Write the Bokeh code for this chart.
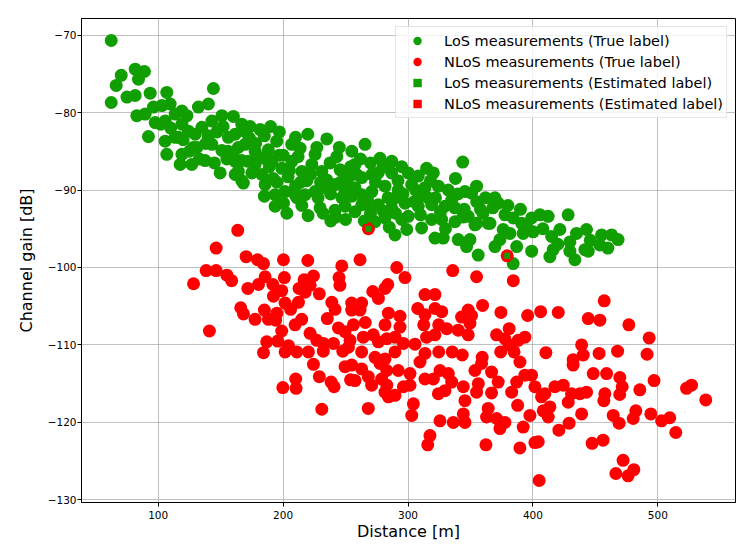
from bokeh.plotting import figure
from bokeh.models import Range1d, FixedTicker, Legend, LegendItem
from bokeh.embed import file_html
from bokeh.resources import INLINE

# ---------------- data ----------------
los_distance = [
    62.4, 70.4, 66.4, 62.4, 81.6, 89.0, 84.2, 75.0, 81.6, 93.6, 106.9, 144.2,
    82.9, 89.6, 96.2, 103.0, 109.6, 97.6, 105.6, 113.6, 119.0,
    92.2, 105.6, 106.9, 113.6, 123.0, 132.2, 140.2,
    119.0, 124.2, 129.6, 135.0, 143.0, 151.0, 160.2, 166.9,
    116.2, 119.0, 117.6, 126.9, 137.6, 131.0, 143.0, 151.0, 156.2, 161.6, 164.2, 166.9,
    149.6, 161.6, 166.9,
    173.6, 181.6, 169.6, 177.6, 188.2, 194.9, 206.9, 213.6, 219.8, 225.6,
    161.6, 164.2, 168.2, 177.6, 183.0, 191.0, 199.0, 207.0, 215.0, 223.0, 231.0, 237.6, 245.6, 252.2, 257.6, 265.6, 263.0, 271.0,
    185.6, 193.6, 201.6, 209.6, 217.6, 225.6, 233.6, 241.6, 249.6, 257.6, 263.0, 271.0,
    193.6, 200.3, 211.0, 229.6, 241.6, 238.2, 249.6, 257.6, 263.0,
    277.6, 343.8, 314.9, 320.3, 276.2, 286.9, 300.2, 308.2,
    281.6, 292.2, 302.9, 313.6, 324.3, 332.2, 345.6, 354.9, 350.9, 369.6, 372.2, 367.9,
    276.2, 286.9, 297.6, 308.2, 318.9, 329.6, 337.6,
    273.6, 281.6, 300.2, 310.9, 318.9, 326.9, 337.6, 348.2, 353.6, 364.2,
    289.6, 299.0, 321.6, 328.2, 340.2, 346.9, 356.2, 369.6, 373.6,
    355.0, 349.6, 365.6, 377.6, 376.2, 384.2, 391.0, 399.0, 405.6, 412.2, 387.0, 399.0, 384.2,
    381.6, 392.2, 400.2, 415.0, 421.6, 428.2, 429.6, 434.9, 442.9, 416.2, 429.6, 441.6, 433.6,
    455.0, 463.0, 468.2, 453.6, 413.6, 444.3,
    173.0, 181.0, 189.0, 197.0, 204.0, 212.0, 219.0, 227.0, 235.0, 243.0, 251.0, 259.0,
    175.0, 195.0, 210.0, 228.0, 247.0, 255.0, 268.0, 185.0, 203.0, 220.0, 242.0, 280.0,
    290.0, 310.0, 322.0, 335.0, 345.0, 292.0, 305.0, 318.0, 338.0, 355.0, 360.0, 330.0,
    310.0, 295.0, 285.0, 265.0, 250.0, 147.0, 152.0, 140.0, 128.0, 133.0, 155.0, 172.0,
    160.0, 185.0, 197.0, 210.0, 235.0, 245.0, 255.0, 270.0, 280.0, 287.0, 295.0, 102.0,
    110.0, 120.0,
    178.0, 186.0, 192.0, 200.0, 205.0, 214.0, 222.0, 230.0, 238.0, 246.0, 254.0, 262.0,
    274.0, 284.0, 296.0, 306.0, 316.0, 326.0, 340.0, 344.0, 358.0, 362.0, 380.0, 390.0,
    396.0, 408.0, 420.0, 446.0, 460.0, 170.0, 190.0, 156.0, 145.0, 138.0, 125.0, 215.0,
    232.0, 270.0, 290.0,
]
los_gain = [
    -70.7, -75.2, -76.5, -78.7, -74.4, -74.7, -75.7, -78.0, -77.8, -77.5, -77.4, -76.9,
    -80.4, -80.2, -79.3, -79.1, -78.9, -81.3, -81.1, -80.2, -79.8,
    -83.1, -83.7, -85.4, -83.2, -80.4, -79.3, -78.9,
    -81.5, -82.4, -82.8, -81.9, -81.1, -80.4, -80.5, -81.5,
    -83.2, -85.4, -86.7, -86.7, -86.2, -84.5, -84.1, -84.9, -83.2, -82.8, -84.5, -86.2,
    -87.8, -88.0, -88.8,
    -81.8, -82.2, -84.1, -85.0, -84.8, -83.7, -84.1, -84.6, -82.8, -85.4,
    -86.3, -87.6, -89.1, -86.7, -88.0, -86.3, -87.2, -86.3, -87.6, -86.7, -87.6, -86.5, -87.4, -88.4, -86.7, -84.1, -88.4, -88.0,
    -89.3, -90.6, -90.2, -90.6, -90.6, -90.2, -89.7, -89.3, -90.2, -89.7, -90.6, -90.2,
    -92.1, -91.7, -91.0, -92.3, -92.6, -94.0, -92.1, -92.8, -91.9,
    -85.9, -86.4, -87.2, -87.8, -87.8, -87.8, -87.8, -88.2,
    -89.5, -90.0, -89.3, -89.7, -89.5, -90.0, -90.2, -89.5, -90.4, -91.0, -91.7, -92.3,
    -91.9, -92.3, -91.7, -92.1, -91.9, -92.1, -92.3,
    -94.1, -93.6, -93.4, -94.9, -93.8, -93.8, -94.1, -93.4, -94.5, -94.3,
    -95.8, -95.1, -96.2, -96.2, -96.4, -97.3, -98.4, -97.3, -96.4,
    -94.3, -96.4, -94.3, -93.2, -95.1, -93.6, -94.3, -93.6, -93.2, -93.4, -97.3, -97.9, -99.5,
    -95.6, -95.6, -95.4, -96.0, -95.1, -93.2, -96.7, -95.6, -95.1, -97.7, -97.9, -97.7, -99.0,
    -95.8, -95.8, -96.4, -97.1, -98.6, -97.9,
    -83.3, -85.8, -87.0, -85.5, -88.3, -85.7, -88.8, -84.5, -88.7, -85.7, -89.2, -88.0,
    -87.8, -89.0, -89.5, -91.0, -91.0, -90.8, -91.5, -90.8, -93.0, -93.3, -93.5, -92.7,
    -91.0, -90.8, -91.0, -91.3, -92.5, -88.8, -91.5, -88.8, -88.5, -91.5, -93.0, -95.0,
    -93.2, -93.8, -94.8, -94.0, -93.8, -82.5, -81.8, -83.0, -84.5, -86.0, -86.0, -86.3,
    -85.3, -83.0, -82.5, -83.2, -83.4, -84.5, -85.0, -86.5, -87.0, -86.3, -87.0, -81.5,
    -82.0, -83.5,
    -84.0, -86.0, -88.5, -85.5, -87.5, -89.0, -88.0, -89.0, -90.5, -89.0, -87.0, -86.0,
    -89.0, -91.0, -90.5, -90.0, -91.0, -92.8, -90.5, -93.5, -92.5, -91.0, -92.0, -92.5,
    -95.0, -95.0, -97.0, -96.5, -97.5, -82.5, -81.8, -85.0, -86.5, -84.0, -85.0, -92.0,
    -93.0, -93.0, -93.0,
]

# NLoS measurements; the first two were estimated as LoS
nlos_distance = [
    268.3, 379.4,
    163.7, 146.4, 170.4, 179.5, 184.3, 200.3, 219.8, 247.0, 138.4, 146.4, 155.0, 158.8, 128.3,
    185.6, 201.0, 171.8, 180.3, 191.8, 216.8, 224.3, 212.8, 221.6, 198.9, 192.3, 229.0, 217.6,
    244.8, 245.5, 166.1, 168.3, 177.6, 185.0, 188.3, 195.0, 194.0, 201.6, 206.0, 212.3, 214.9,
    209.6, 239.0, 241.6, 235.4, 141.0, 198.9, 221.6, 244.3, 186.9, 195.7, 204.3, 227.0, 232.2,
    240.3, 249.6, 184.3, 201.6, 211.0, 220.3, 232.2, 247.8, 252.3,
    224.3, 249.6, 210.1, 199.8, 210.4, 229.0, 238.4, 240.8, 231.0, 254.0,
    261.6, 291.0, 297.6, 335.8, 354.9, 384.3, 271.8, 276.3, 281.6, 283.8, 254.9, 262.9, 254.9,
    261.6, 284.3, 293.6, 265.8, 256.3, 281.6, 293.6, 313.6, 321.6, 307.8, 313.6, 321.6, 327.0,
    312.6, 324.6, 331.0, 314.9, 321.6, 340.2, 348.2, 342.9, 348.2, 350.9, 359.7, 374.4, 381.0,
    395.8, 349.6, 370.9, 377.6, 388.2, 393.6, 374.2, 380.9, 384.9, 253.6, 264.2, 272.2, 276.3,
    283.0, 289.6, 296.3, 305.6, 313.6, 324.6, 335.4, 343.4, 359.4, 389.6, 262.9, 273.6, 289.6,
    281.6,
    254.9, 262.9, 257.6, 268.2, 270.9, 277.6, 283.0, 278.9, 283.0, 284.3, 289.6, 281.6, 292.2,
    301.6, 296.3, 301.6, 304.3, 303.0, 268.2, 309.6, 313.6, 320.3, 324.3, 329.6, 325.6, 332.3,
    335.0, 325.6, 336.3, 345.6, 344.3, 345.6, 344.3, 317.6, 315.8, 353.6, 356.3, 354.9, 358.9,
    366.9, 372.2, 366.9, 364.2, 362.9, 370.9, 377.6, 373.6, 362.4, 383.0, 387.0, 393.6, 398.9,
    387.8, 397.6, 392.2, 389.6, 401.6,
    406.2, 420.3, 457.1, 444.3, 453.6, 476.8, 493.1, 410.4, 439.0, 440.3, 432.2, 453.0, 467.8,
    491.4,
    401.6, 406.9, 409.6, 413.6, 408.3, 412.3, 432.2, 417.6, 424.3, 430.9, 437.6, 442.9, 428.3,
    448.3, 459.0, 469.6, 471.5, 469.5, 457.6, 456.8, 485.6, 497.0, 439.0, 429.0, 420.8, 404.3,
    464.3, 469.0, 480.3, 482.4, 494.4, 503.0, 509.6, 514.4, 523.0, 527.0, 538.4, 447.4, 456.2,
    472.2, 466.4, 476.2, 480.8, 405.0,
]
nlos_gain = [
    -95.0, -98.5,
    -95.2, -97.5, -98.6, -99.0, -99.5, -99.0, -99.1, -99.8, -100.4, -100.4, -101.0, -101.7, -102.1,
    -101.2, -101.3, -102.7, -102.2, -102.2, -101.6, -101.1, -102.7, -102.3, -103.0, -103.7, -103.4, -103.2,
    -101.3, -102.3, -105.2, -106.0, -106.7, -105.5, -106.7, -105.9, -106.8, -104.6, -105.4, -104.5, -106.7,
    -107.4, -104.5, -105.4, -106.6, -108.2, -108.2, -108.5, -107.8, -109.6, -109.5, -110.1, -109.4, -109.8,
    -109.8, -108.3, -111.0, -110.9, -110.9, -110.9, -110.8, -110.8, -110.3,
    -112.5, -112.8, -114.4, -115.5, -115.6, -114.1, -114.8, -115.4, -118.3, -114.5,
    -99.0, -100.0, -101.3, -100.4, -101.2, -101.7, -103.1, -104.0, -102.7, -102.2, -104.6, -104.6, -105.5,
    -105.5, -105.9, -106.3, -107.1, -107.4, -107.4, -107.7, -103.5, -103.5, -105.3, -106.1, -105.3, -105.7,
    -107.4, -107.4, -107.9, -109.0, -108.7, -108.1, -108.7, -106.4, -105.5, -106.2, -104.9, -105.8, -107.9,
    -106.2, -107.2, -108.7, -109.2, -109.4, -109.0, -110.9, -110.0, -110.9, -109.4, -109.0, -108.7, -109.6,
    -109.2, -109.0, -109.8, -109.9, -111.1, -110.9, -110.9, -111.3, -111.6, -112.2, -110.9, -111.6, -110.9,
    -111.8,
    -112.6, -113.1, -114.6, -114.1, -115.2, -112.4, -113.3, -114.4, -115.2, -116.7, -116.5, -116.1, -113.3,
    -113.7, -115.4, -115.2, -117.6, -119.1, -118.2, -112.2, -114.4, -114.4, -116.3, -115.9, -113.3, -113.7,
    -114.8, -119.8, -120.0, -120.0, -118.9, -117.2, -115.4, -121.7, -122.9, -113.3, -115.0, -116.1, -112.4,
    -113.5, -114.8, -116.2, -118.2, -119.3, -119.5, -120.0, -120.8, -122.9, -116.1, -114.8, -113.9, -113.9,
    -117.8, -119.1, -120.6, -123.3, -122.6,
    -105.7, -105.8, -104.3, -106.6, -106.8, -107.4, -109.1, -111.0, -110.0, -111.3, -111.9, -111.1, -110.8,
    -111.2,
    -115.4, -116.7, -116.3, -118.0, -118.5, -119.3, -112.6, -115.4, -115.2, -116.3, -116.3, -116.1, -117.4,
    -113.7, -113.7, -114.2, -115.4, -116.4, -116.3, -117.2, -115.8, -114.6, -118.9, -120.1, -121.0, -122.5,
    -119.1, -120.1, -119.5, -118.5, -118.9, -119.8, -119.4, -121.3, -115.6, -115.2, -117.1, -122.7, -122.3,
    -124.9, -126.6, -126.9, -126.1, -127.5,
]
nlos_estimated_as_los = [0, 1]

x_ticks = [100, 200, 300, 400, 500]
x_tick_labels = ["100", "200", "300", "400", "500"]
y_ticks = [-130, -120, -110, -100, -90, -80, -70]
y_tick_labels = ["\u2212130", "\u2212120", "\u2212110", "\u2212100", "\u221290", "\u221280", "\u221270"]
legend_labels = [
    "LoS measurements (True label)",
    "NLoS measurements (True label)",
    "LoS measurements (Estimated label)",
    "NLoS measurements (Estimated label)",
]

GREEN = "#109e00"
RED = "#ff0000"
FONT = "DejaVu Sans"

# estimated-label groups
est_los_x = los_distance + [nlos_distance[i] for i in nlos_estimated_as_los]
est_los_y = los_gain + [nlos_gain[i] for i in nlos_estimated_as_los]
est_nlos_x = [d for i, d in enumerate(nlos_distance) if i not in nlos_estimated_as_los]
est_nlos_y = [g for i, g in enumerate(nlos_gain) if i not in nlos_estimated_as_los]

all_x = los_distance + nlos_distance
all_y = los_gain + nlos_gain
xpad = (max(all_x) - min(all_x)) * 0.05
ypad = (max(all_y) - min(all_y)) * 0.05

p = figure(
    frame_width=654, frame_height=484,
    x_range=Range1d(min(all_x) - xpad, max(all_x) + xpad),
    y_range=Range1d(min(all_y) - ypad, max(all_y) + ypad),
    output_backend="svg", toolbar_location=None,
    min_border_left=81, min_border_right=8, min_border_top=18, min_border_bottom=44,
    background_fill_color="white", border_fill_color="white",
)

r_los = p.scatter(los_distance, los_gain, marker="circle", size=13,
                  fill_color=GREEN, line_color=None)
r_nlos = p.scatter(nlos_distance, nlos_gain, marker="circle", size=13,
                   fill_color=RED, line_color=None)
r_est_los = p.scatter(est_los_x, est_los_y, marker="square", size=6,
                      fill_color=GREEN, line_color=None)
r_est_nlos = p.scatter(est_nlos_x, est_nlos_y, marker="square", size=6,
                       fill_color=RED, line_color=None)

# axes
p.xaxis.ticker = FixedTicker(ticks=x_ticks)
p.yaxis.ticker = FixedTicker(ticks=y_ticks)
p.xgrid.ticker = FixedTicker(ticks=x_ticks)
p.ygrid.ticker = FixedTicker(ticks=y_ticks)
p.xaxis.major_label_overrides = dict(zip(x_ticks, x_tick_labels))
p.yaxis.major_label_overrides = dict(zip(y_ticks, y_tick_labels))
p.xaxis.axis_label = "Distance [m]"
p.yaxis.axis_label = "Channel gain [dB]"
for ax in (p.xaxis, p.yaxis):
    ax.axis_label_text_font = FONT
    ax.axis_label_text_font_size = "16px"
    ax.axis_label_text_font_style = "normal"
    ax.axis_label_text_color = "black"
    ax.major_label_text_font = FONT
    ax.major_label_text_font_size = "10.5px"
    ax.major_label_text_color = "black"
    ax.minor_tick_line_color = None
    ax.major_tick_in = 0
    ax.major_tick_out = 4
    ax.major_tick_line_color = "black"
    ax.axis_line_color = "black"
p.yaxis.major_label_standoff = 1
p.xaxis.major_label_standoff = 4
p.yaxis.axis_label_standoff = 9
p.xaxis.axis_label_standoff = 0

p.grid.grid_line_color = "#b0b0b0"
p.grid.grid_line_width = 0.8
p.outline_line_color = "black"
p.outline_line_width = 1
p.outline_line_alpha = 1

legend = Legend(
    items=[
        LegendItem(label=legend_labels[0], renderers=[r_los]),
        LegendItem(label=legend_labels[1], renderers=[r_nlos]),
        LegendItem(label=legend_labels[2], renderers=[r_est_los]),
        LegendItem(label=legend_labels[3], renderers=[r_est_nlos]),
    ],
    location="top_right",
    label_text_font=FONT, label_text_font_size="14.5px", label_text_color="black",
    glyph_width=36, glyph_height=21, label_height=20, spacing=0,
    padding=3, margin=8, label_standoff=9,
    border_line_color="#cccccc", border_line_width=1,
    background_fill_color="white", background_fill_alpha=0.8,
)
p.add_layout(legend)

open("out.html", "w").write(file_html(p, INLINE))
